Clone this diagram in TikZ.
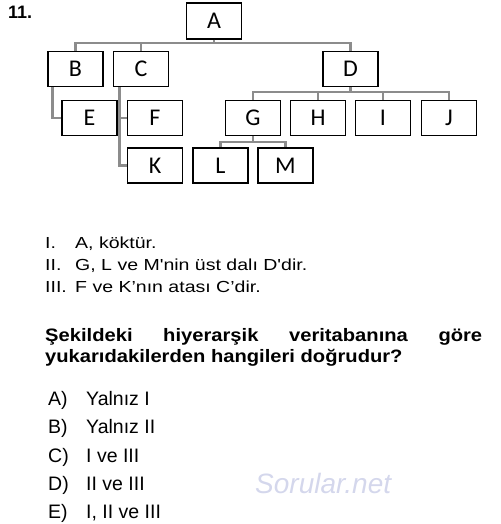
\documentclass[tikz,border=0pt]{standalone}
\usepackage{fontspec}
\setmainfont{Liberation Sans}
\newfontfamily\boxfont{Carlito}
\newfontfamily\stmtfont[FakeStretch=1.22]{Liberation Sans}
\newfontfamily\askfont[FakeStretch=1.12]{Liberation Sans}
\usepackage{tikz}
\usetikzlibrary{positioning,calc}
\definecolor{linkgray}{HTML}{8C8C8C}
\definecolor{markblue}{HTML}{D4D7EC}

\begin{document}
\begin{tikzpicture}[x=1pt,y=-1pt]
  \tikzstyle{rec}=[draw=black,line width=1.5pt,minimum width=55pt,minimum height=35pt,inner sep=0pt,font=\boxfont\fontsize{24}{24}\selectfont]
  \tikzstyle{link}=[draw=linkgray,line width=2.8pt]
  \tikzstyle{stmt}=[anchor=base west,inner sep=0pt,font=\stmtfont\fontsize{16}{19}\selectfont]
  \tikzstyle{choice}=[anchor=base west,inner sep=0pt,font=\fontsize{19.5}{22}\selectfont]
  \useasboundingbox (0,0) rectangle (500,524);

  \draw (8,18.5) node[anchor=base west,inner sep=0pt,font=\bfseries\fontsize{18}{18}\selectfont] (num){11.};

  \draw (214,21) node[rec,minimum height=36pt] (A){A};

  \draw (75.5,69) node[rec] (B){B};
  \draw (141,69) node[rec] (C){C};
  \draw (350.5,69) node[rec] (D){D};

  \draw (89.5,118) node[rec] (E){E};
  \draw (155,118) node[rec] (F){F};
  \draw (253,118) node[rec] (G){G};
  \draw (318,118) node[rec] (H){H};
  \draw (383,118) node[rec] (I){I};
  \draw (449,118) node[rec] (J){J};

  \draw (155,165.5) node[rec] (K){K};
  \draw (220.5,165.5) node[rec] (L){L};
  \draw (285.5,165.5) node[rec] (M){M};

  \coordinate (a0) at (214,43);
  \coordinate (d0) at (350.5,92);
  \coordinate (g0) at (253,142);

  \draw[link] (A) -- (a0);
  \draw[link] (a0) -| (B);
  \draw[link] (a0) -| (C);
  \draw[link] (a0) -| (D);
  \draw[link] ([xshift=5pt]B.south west) |- (E);
  \draw[link] ([xshift=7pt]C.south west) |- (F);
  \draw[link] ([xshift=7pt]C.south west) |- (K);
  \draw[link] (D) -- (d0);
  \draw[link] (d0) -| (G);
  \draw[link] (d0) -| (H);
  \draw[link] (d0) -| (I);
  \draw[link] (d0) -| (J);
  \draw[link] (G) -- (g0);
  \draw[link] (g0) -| (L);
  \draw[link] (g0) -| (M);

  \draw (45,248) node[stmt] (s1n){I.};
  \draw (75,248) node[stmt] (s1){A, köktür.};
  \draw (45,270) node[stmt] (s2n){II.};
  \draw (75,270) node[stmt] (s2){G, L ve M'nin üst dalı D'dir.};
  \draw (45,292) node[stmt] (s3n){III.};
  \draw (75,292) node[stmt] (s3){F ve K’nın atası C’dir.};

  \draw (45,341) node[anchor=base west,inner sep=0pt] (ask){\parbox[t]{437pt}{\askfont\bfseries\fontsize{18}{21}\selectfont Şekildeki hiyerarşik veritabanına göre\linebreak yukarıdakilerden hangileri doğrudur?}};

  \draw (48,405.5) node[choice] (oa){A)};
  \draw (86,405.5) node[choice] (ta){Yalnız I};
  \draw (48,433.8) node[choice] (ob){B)};
  \draw (86,433.8) node[choice] (tb){Yalnız II};
  \draw (48,462.1) node[choice] (oc){C)};
  \draw (86,462.1) node[choice] (tc){I ve III};
  \draw (48,490.4) node[choice] (od){D)};
  \draw (86,490.4) node[choice] (td){II ve III};
  \draw (48,518.7) node[choice] (oe){E)};
  \draw (86,518.7) node[choice] (te){I, II ve III};

  \draw (255,493) node[anchor=base west,inner sep=0pt,text=markblue,font=\itshape\fontsize{28}{28}\selectfont] (mark){Sorular.net};
\end{tikzpicture}
\end{document}
